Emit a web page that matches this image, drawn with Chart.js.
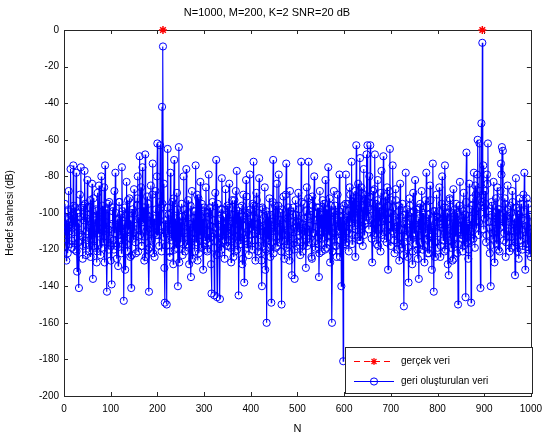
<!DOCTYPE html>
<html>
<head>
<meta charset="utf-8">
<script src="https://cdn.jsdelivr.net/npm/chart.js@4.4.1/dist/chart.umd.min.js"></script>
<style>
  body { margin: 0; background: #fff; }
  #wrap { width: 549px; height: 439px; }
</style>
</head>
<body>
<div id="wrap"><canvas id="myChart" width="549" height="439"></canvas></div>
<script>
// values (dB)
// even samples N = 2, 4, ... 1000
const rebuiltDbEven = [
  -95,-118,-104,-122,-88,-110,-76,-115,-101,-74,-120,-97,-78,-132,-106,-141,-90,-75,-112,-125,-96,-77,-117,-103,-82,
  -108,-121,-93,-114,-84,-136,-102,-119,-98,-127,-89,-111,-105,-123,-80,-100,-116,-86,-74,-109,-143,-95,-120,-107,-126,
  -139,-99,-115,-88,-78,-118,-104,-129,-94,-112,-101,-75,-117,-148,-97,-110,-83,-121,-106,-92,-124,-141,-100,-114,-87,
  -109,-122,-96,-80,-113,-69,-104,-118,-75,-99,-126,-68,-110,-91,-120,-143,-102,-85,-115,-73,-107,-124,-88,-112,-62,
  -105,-118,-63,-97,-42,-9,-84,-149,-110,-150,-65,-101,-121,-78,-113,-94,-128,-71,-108,-119,-89,-140,-64,-102,-116,
  -95,-123,-80,-111,-101,-76,-117,-93,-128,-106,-135,-88,-114,-99,-121,-74,-108,-126,-92,-112,-83,-119,-103,-131,-97,
  -113,-86,-120,-100,-79,-116,-107,-144,-94,-111,-145,-89,-71,-146,-104,-122,-147,-98,-81,-115,-102,-125,-87,-110,-96,
  -118,-84,-106,-127,-93,-114,-101,-121,-88,-77,-109,-145,-97,-117,-104,-128,-90,-138,-112,-82,-119,-100,-123,-79,-108,
  -115,-95,-72,-111,-126,-89,-103,-118,-81,-107,-122,-140,-98,-113,-86,-120,-160,-101,-115,-92,-124,-149,-105,-71,-110,
  -96,-119,-84,-108,-79,-116,-100,-150,-112,-91,-125,-103,-73,-117,-97,-121,-88,-109,-134,-101,-114,-136,-93,-118,-105,
  -89,-112,-123,-72,-106,-118,-95,-110,-130,-86,-102,-72,-116,-99,-124,-91,-111,-80,-120,-104,-97,-117,-135,-88,-108,
  -121,-93,-113,-100,-82,-119,-105,-75,-112,-127,-96,-160,-108,-88,-118,-101,-124,-90,-110,-79,-115,-140,-98,-181,-104,
  -117,-79,-110,-95,-121,-86,-103,-72,-112,-92,-107,-124,-63,-98,-84,-115,-70,-101,-89,-118,-76,-106,-93,-68,-63,
  -97,-80,-63,-104,-127,-88,-112,-68,-95,-117,-82,-108,-99,-121,-77,-103,-69,-114,-91,-110,-86,-131,-100,-65,-118,
  -93,-74,-111,-122,-87,-105,-116,-96,-126,-84,-109,-119,-101,-151,-113,-78,-106,-124,-138,-92,-115,-100,-128,-89,-111,
  -82,-117,-104,-125,-136,-97,-112,-88,-120,-101,-127,-93,-78,-114,-106,-122,-85,-109,-131,-73,-143,-99,-116,-90,-119,
  -103,-86,-124,-108,-80,-115,-97,-74,-120,-105,-128,-134,-92,-113,-100,-126,-87,-117,-109,-95,-122,-150,-104,-83,-114,
  -98,-121,-89,-110,-146,-67,-106,-125,-84,-115,-149,-96,-108,-78,-119,-90,-104,-60,-112,-62,-141,-51,-7,-74,-97,
  -88,-116,-79,-62,-105,-122,-140,-94,-111,-83,-127,-100,-114,-86,-120,-98,-108,-73,-64,-66,-115,-92,-124,-102,-85,
  -110,-121,-96,-113,-88,-106,-118,-134,-81,-109,-99,-125,-92,-115,-103,-120,-90,-78,-131,-107,-117,-95,-122,-101,-124
];
// odd samples N = 1, 3, ... 999
const rebuiltDbOdd = [
  -112,-103,-126,-109,-99,-117,-105,-98,-119,-108,-96,-114,-107,-121,-100,-116,-111,-102,-97,-113,-118,-104,-95,-123,-110,
  -101,-115,-97,-124,-106,-112,-92,-118,-104,-99,-121,-108,-85,-113,-102,-119,-96,-110,-127,-105,-98,-116,-109,-94,-114,
  -118,-106,-97,-120,-111,-100,-125,-103,-115,-94,-108,-122,-99,-112,-106,-131,-101,-117,-93,-109,-114,-104,-123,-98,-111,
  -100,-116,-107,-92,-121,-103,-112,-86,-118,-105,-97,-113,-124,-101,-109,-95,-119,-106,-114,-90,-122,-103,-111,-98,-80,
  -112,-99,-94,-107,-121,-95,-113,-130,-104,-118,-97,-111,-106,-124,-100,-115,-109,-92,-120,-103,-116,-98,-112,-127,-105,
  -110,-102,-117,-98,-121,-105,-113,-100,-119,-108,-96,-114,-125,-103,-111,-99,-116,-90,-107,-122,-101,-112,-95,-118,-106,
  -99,-115,-106,-121,-102,-110,-97,-128,-113,-104,-119,-100,-108,-123,-95,-111,-117,-103,-120,-98,-112,-106,-115,-101,-118,
  -104,-111,-97,-119,-108,-101,-124,-93,-113,-106,-120,-99,-115,-102,-110,-96,-125,-107,-114,-100,-91,-117,-105,-112,-98,
  -103,-120,-109,-96,-115,-106,-93,-121,-100,-112,-104,-126,-97,-118,-108,-131,-99,-114,-105,-110,-119,-101,-116,-94,-122,
  -107,-100,-113,-118,-96,-109,-104,-121,-98,-115,-106,-112,-90,-119,-103,-110,-126,-99,-114,-105,-97,-120,-108,-101,-116,
  -110,-98,-105,-116,-94,-121,-103,-112,-108,-99,-118,-92,-107,-114,-101,-125,-96,-111,-104,-119,-100,-113,-97,-122,-106,
  -101,-114,-107,-95,-120,-103,-98,-116,-109,-92,-113,-105,-121,-100,-111,-96,-118,-104,-107,-99,-124,-102,-112,-118,-96,
  -108,-95,-116,-102,-99,-111,-90,-105,-117,-94,-103,-88,-109,-98,-113,-92,-100,-115,-86,-107,-97,-112,-90,-104,-94,
  -102,-109,-91,-98,-114,-95,-106,-87,-111,-100,-93,-118,-97,-105,-89,-112,-99,-94,-108,-101,-116,-96,-103,-88,-107,
  -100,-110,-97,-115,-104,-93,-120,-107,-99,-113,-102,-117,-95,-123,-106,-101,-112,-98,-119,-108,-96,-114,-103,-121,-99,
  -106,-112,-98,-120,-103,-109,-95,-116,-107,-100,-118,-104,-111,-97,-122,-101,-113,-93,-108,-117,-99,-110,-124,-105,-102,
  -111,-99,-106,-118,-95,-108,-103,-121,-97,-112,-100,-115,-106,-93,-119,-102,-110,-125,-98,-113,-104,-100,-117,-96,-109,
  -105,-112,-99,-118,-101,-94,-116,-107,-120,-98,-110,-103,-92,-114,-100,-85,-108,-79,-97,-105,-88,-96,-94,-90,-109,
  -103,-95,-112,-84,-99,-108,-118,-101,-96,-114,-105,-110,-92,-117,-104,-98,-121,-88,-79,-107,-100,-111,-95,-116,-103,
  -98,-113,-105,-100,-119,-94,-110,-103,-116,-97,-121,-106,-101,-112,-95,-109,-118,-99,-104,-114,-92,-108,-120,-102,-111
];
const trueN = [212, 896];
const trueDb = [0, 0];
const xTicks = [0, 100, 200, 300, 400, 500, 600, 700, 800, 900, 1000];
const yTicks = [0, -20, -40, -60, -80, -100, -120, -140, -160, -180, -200];

const titleText = 'N=1000, M=200, K=2 SNR=20 dB';
const legendNames = ['gerçek veri', 'geri oluşturulan veri'];
const fontFam = '"Liberation Sans", Arial, sans-serif';

// merge odd and even samples back into N order
const rebuiltPts = [];
rebuiltDbEven.forEach((v, i) => {
  rebuiltPts.push({ x: 2 * i + 1, y: rebuiltDbOdd[i] });
  rebuiltPts.push({ x: 2 * i + 2, y: v });
});
const truePts = trueN.map((n, i) => ({ x: n, y: trueDb[i] }));

// MATLAB style box, inward ticks and the legend
const matlabAxes = {
  id: 'matlabAxes',
  beforeDatasetsDraw(chart) {
    const { ctx, chartArea: a, scales: { x, y } } = chart;
    ctx.save();
    ctx.strokeStyle = '#262626';
    ctx.lineWidth = 1;
    ctx.beginPath();
    xTicks.forEach(v => {
      const px = Math.round(x.getPixelForValue(v)) + 0.5;
      ctx.moveTo(px, a.bottom); ctx.lineTo(px, a.bottom - 4);
      ctx.moveTo(px, a.top); ctx.lineTo(px, a.top + 4);
    });
    yTicks.forEach(v => {
      const py = Math.round(y.getPixelForValue(v)) + 0.5;
      ctx.moveTo(a.left, py); ctx.lineTo(a.left + 4, py);
      ctx.moveTo(a.right, py); ctx.lineTo(a.right - 4, py);
    });
    ctx.stroke();
    ctx.strokeRect(Math.round(a.left) + 0.5, Math.round(a.top) + 0.5,
      Math.round(a.right - a.left), Math.round(a.bottom - a.top));
    ctx.restore();
  },
  afterDatasetsDraw(chart) {
    const { ctx, chartArea: a } = chart;
    const bx = a.left + 281, by = a.bottom - 49, bw = 187, bh = 46;
    ctx.save();
    ctx.fillStyle = '#fff';
    ctx.fillRect(bx, by, bw, bh);
    ctx.strokeStyle = '#262626';
    ctx.lineWidth = 1;
    ctx.strokeRect(bx + 0.5, by + 0.5, bw, bh);

    // row 1: red dashed + star
    let ry = by + 14.5;
    ctx.strokeStyle = '#ff0000';
    ctx.lineWidth = 1.2;
    ctx.setLineDash([6, 4]);
    ctx.beginPath(); ctx.moveTo(bx + 9, ry); ctx.lineTo(bx + 49, ry); ctx.stroke();
    ctx.setLineDash([]);
    Chart.helpers.drawPoint(ctx, { pointStyle: 'star', radius: 3.5, borderWidth: 1.5 }, bx + 29, ry);
    // row 2: blue line + circle
    ry = by + 34.5;
    ctx.strokeStyle = '#0000ff';
    ctx.lineWidth = 1;
    ctx.beginPath(); ctx.moveTo(bx + 9, ry); ctx.lineTo(bx + 49, ry); ctx.stroke();
    ctx.beginPath(); ctx.arc(bx + 29, ry, 3.6, 0, Math.PI * 2); ctx.stroke();

    ctx.fillStyle = '#000';
    ctx.font = '10px ' + fontFam;
    ctx.textBaseline = 'middle';
    ctx.fillText(legendNames[0], bx + 56, by + 14.5);
    ctx.fillText(legendNames[1], bx + 56, by + 34.5);
    ctx.restore();
  }
};

const ctx = document.getElementById('myChart').getContext('2d');
const myChart = new Chart(ctx, {
  type: 'line',
  data: {
    datasets: [{
      label: legendNames[0],
      data: truePts,
      showLine: false,
      borderColor: '#ff0000',
      backgroundColor: '#ff0000',
      pointStyle: 'star',
      pointRadius: 4,
      pointBorderWidth: 1.5,
      clip: false
    }, {
      label: legendNames[1],
      data: rebuiltPts,
      borderColor: '#0000ff',
      borderWidth: 1.1,
      pointStyle: 'circle',
      pointRadius: 3.6,
      pointBorderWidth: 1,
      pointBackgroundColor: 'rgba(0,0,0,0)',
      pointBorderColor: '#0000ff',
      tension: 0
    }]
  },
  options: {
    responsive: false,
    animation: false,
    events: [],
    layout: { padding: { left: 0, right: 15, top: 0, bottom: 0 } },
    plugins: {
      legend: { display: false },
      tooltip: { enabled: false },
      title: {
        display: true,
        text: titleText,
        color: '#000',
        font: { family: fontFam, size: 11, weight: 'normal', lineHeight: 1.2 },
        padding: { top: 6, bottom: 10.8 }
      }
    },
    scales: {
      x: {
        type: 'linear',
        min: 0,
        max: 1000,
        afterBuildTicks: s => { s.ticks = xTicks.map(v => ({ value: v })); },
        afterFit: s => { s.height = 43; },
        grid: { display: false, drawTicks: false },
        border: { display: false },
        ticks: { color: '#000', padding: 7, maxRotation: 0, callback: v => String(v),
          font: { family: fontFam, size: 10 } },
        title: { display: true, text: 'N', color: '#000', padding: { top: 0, bottom: 3 },
          font: { family: fontFam, size: 11 } }
      },
      y: {
        type: 'linear',
        min: -200,
        max: 0,
        afterBuildTicks: s => { s.ticks = yTicks.map(v => ({ value: v })); },
        afterFit: s => { s.width = 64; },
        grid: { display: false, drawTicks: false },
        border: { display: false },
        ticks: { color: '#000', padding: 5, callback: v => String(v),
          font: { family: fontFam, size: 10 } },
        title: { display: true, text: 'Hedef sahnesi (dB)', color: '#000', padding: { top: 4, bottom: 0 },
          font: { family: fontFam, size: 10 } }
      }
    }
  },
  plugins: [matlabAxes]
});
</script>
</body>
</html>
